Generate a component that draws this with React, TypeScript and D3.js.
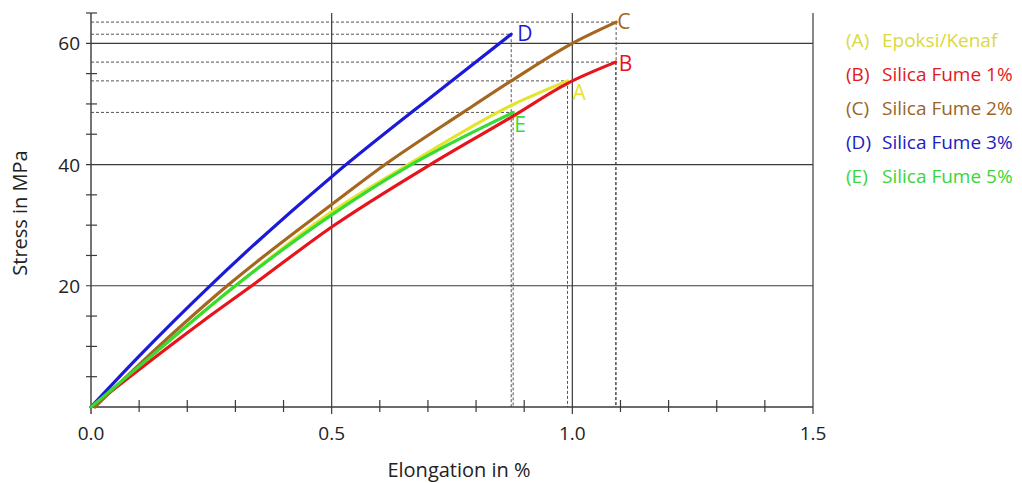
import React, { useEffect } from "react";
import * as d3 from "d3";

type Pt = [number, number];

// curve points (elongation %, stress MPa)
const seriesA: Pt[] = [[0, 0], [0.1, 6.7], [0.3, 20], [0.5, 32.2], [0.659, 40], [0.877, 49.9], [0.99, 53.8]];
const seriesB: Pt[] = [[0, 0], [0.233, 14.2], [0.334, 20], [0.5, 29.7], [0.705, 40], [0.877, 48], [0.99, 53.4], [1.09, 56.9]];
const seriesC: Pt[] = [[0.008, 0], [0.1, 7.0], [0.283, 20], [0.5, 33.4], [0.611, 40], [0.773, 48.6], [0.873, 53.8], [1.0, 60], [1.091, 63.5]];
const seriesD: Pt[] = [[0, 0], [0.1, 8.4], [0.25, 20.2], [0.5, 38], [0.73, 52.6], [0.873, 61.5]];
const seriesE: Pt[] = [[0, 0], [0.1, 6.7], [0.3, 20], [0.5, 31.7], [0.659, 39.7], [0.877, 48.6]];

const codes = ["A", "B", "C", "D", "E"];
const names = ["Epoksi/Kenaf", "Silica Fume 1%", "Silica Fume 2%", "Silica Fume 3%", "Silica Fume 5%"];
const colors = ["#e4e42c", "#e8141c", "#a5661e", "#1a1ad8", "#35dc35"];
const legendColors = ["#d9d940", "#e01a22", "#9a6428", "#1c1cc0", "#3ad63a"];
const allSeries = [seriesA, seriesB, seriesC, seriesD, seriesE];

const xMajor = [0, 0.5, 1.0, 1.5];
const xMinor = d3.range(1, 15).map((i) => i / 10).filter((v) => Math.abs(v * 2 - Math.round(v * 2)) > 1e-6);
const yMajor = [20, 40, 60];
const yMinor = d3.range(5, 70, 5).filter((v) => v % 20 !== 0);

const font = "'Open Sans', 'DejaVu Sans', sans-serif";

export default function App() {
  useEffect(() => {
    document.body.style.margin = "0";
  }, []);

  const x = d3.scaleLinear().domain([0, 1.5]).range([91, 813]);
  const y = d3.scaleLinear().domain([0, 65]).range([407, 13]);
  const line = d3
    .line<Pt>()
    .x((d) => x(d[0]))
    .y((d) => y(d[1]))
    .curve(d3.curveMonotoneX);

  const axisColor = "#3a3a3a";
  // label offsets next to curve endpoints
  const labelOffsets: Pt[] = [[5, 19], [3, 9], [1, 7], [6, 7], [1, 20]];

  return (
    <svg width={1022} height={483} style={{ display: "block", background: "#fff" }} fontFamily={font}>
      {/* dashed guides to each endpoint */}
      {allSeries.map((s, i) => {
        const e = s[s.length - 1];
        return (
          <g key={"dash" + i} stroke="#555" strokeWidth={1} strokeDasharray="3,2">
            <line x1={x(0)} x2={x(e[0])} y1={y(e[1])} y2={y(e[1])} />
            <line x1={x(e[0])} x2={x(e[0])} y1={y(e[1])} y2={y(0)} />
          </g>
        );
      })}

      {/* grid */}
      {yMajor.map((v) => (
        <line key={"gy" + v} x1={x(0) - 5} x2={x(1.5)} y1={y(v)} y2={y(v)} stroke={axisColor} strokeWidth={1.2} />
      ))}
      {xMajor.slice(1).map((v) => (
        <line key={"gx" + v} x1={x(v)} x2={x(v)} y1={y(65)} y2={y(0) + 7} stroke={axisColor} strokeWidth={1.2} />
      ))}

      {/* axes */}
      <line x1={x(0)} x2={x(0)} y1={y(65)} y2={y(0) + 7} stroke={axisColor} strokeWidth={1.4} />
      <line x1={x(0)} x2={x(1.5)} y1={y(0)} y2={y(0)} stroke={axisColor} strokeWidth={1.4} />
      {xMinor.map((v) => (
        <line key={"tx" + v} x1={x(v)} x2={x(v)} y1={y(0) - 7} y2={y(0) + 5} stroke={axisColor} strokeWidth={1.2} />
      ))}
      {yMinor.map((v) => (
        <line key={"ty" + v} x1={x(0) - 5} x2={x(0) + 6} y1={y(v)} y2={y(v)} stroke={axisColor} strokeWidth={1.2} />
      ))}

      {xMajor.map((v) => (
        <text key={"lx" + v} x={x(v)} y={y(0) + 33} textAnchor="middle" fontSize={19} fill="#222">
          {v.toFixed(1)}
        </text>
      ))}
      {yMajor.map((v) => (
        <text key={"ly" + v} x={x(0) - 11} y={y(v) + 7} textAnchor="end" fontSize={19} fill="#222">
          {v}
        </text>
      ))}
      <text x={459} y={477} textAnchor="middle" fontSize={20} fill="#222">
        Elongation in %
      </text>
      <text transform={`translate(27,${213}) rotate(-90)`} textAnchor="middle" fontSize={20} fill="#222">
        Stress in MPa
      </text>

      {/* curves */}
      {allSeries.map((s, i) => (
        <path key={"c" + i} d={line(s) ?? ""} fill="none" stroke={colors[i]} strokeWidth={3.2} strokeLinecap="round" />
      ))}

      {/* endpoint letters */}
      {allSeries.map((s, i) => {
        const e = s[s.length - 1];
        return (
          <text key={"el" + i} x={x(e[0]) + labelOffsets[i][0]} y={y(e[1]) + labelOffsets[i][1]} fontSize={21} fill={colors[i]}>
            {codes[i]}
          </text>
        );
      })}

      {/* legend */}
      {codes.map((c, i) => (
        <g key={"lg" + i} fill={legendColors[i]} fontSize={19}>
          <text x={846} y={47 + i * 34}>({c})</text>
          <text x={882} y={47 + i * 34}>{names[i]}</text>
        </g>
      ))}
    </svg>
  );
}
